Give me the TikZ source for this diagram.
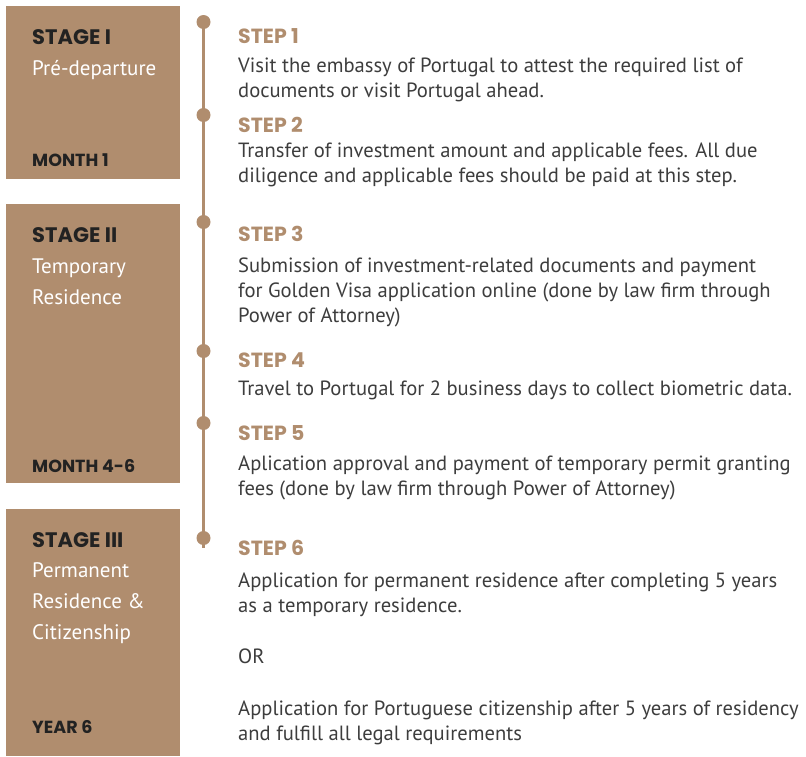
\documentclass[tikz,border=0pt]{standalone}
\usepackage{fontspec}
\setmainfont{PT Sans}
\newfontfamily\headfont{Poppins}
\definecolor{tan}{HTML}{B08D6E}
\definecolor{bodygray}{HTML}{3D3D3D}
\definecolor{ink}{HTML}{222222}
% a top-aligned block whose baseline is that of its first line
\newcommand{\textblock}[1]{\parbox[t]{570pt}{\raggedright #1}}
\begin{document}
\begin{tikzpicture}[x=1pt,y=-1pt,
  stagebox/.style={fill=tan, draw=none},
  stagetitle/.style={anchor=base west, inner sep=0pt, text=ink, font=\headfont\bfseries\fontsize{21}{26}\selectfont},
  stagesub/.style={anchor=base west, inner sep=0pt, text=white, font=\fontsize{21}{31}\selectfont},
  stagetime/.style={anchor=base west, inner sep=0pt, text=ink, font=\headfont\bfseries\fontsize{17.5}{20}\selectfont},
  steptitle/.style={anchor=base west, inner sep=0pt, text=tan, font=\headfont\bfseries\fontsize{20.5}{24}\selectfont},
  stepbody/.style={anchor=base west, inner sep=0pt, text=bodygray, font=\fontsize{20.6}{25}\selectfont},
  dot/.style={circle, fill=tan, minimum size=14pt, inner sep=0pt},
  spine/.style={draw=tan, line width=3.3pt}]
\useasboundingbox (0,0) rectangle (806,756);

% stage panels
\path[stagebox] (6,6) rectangle (180,179);
\path[stagebox] (6,204) rectangle (180,483);
\path[stagebox] (6,509) rectangle (180,756);

\node[stagetitle] (s1t) at (32,44) {STAGE I};
\node[stagesub]   (s1s) at (32,75) {\textblock{Pré-departure}};
\node[stagetime]  (s1m) at (32,166) {MONTH 1};

\node[stagetitle] (s2t) at (32,242) {STAGE II};
\node[stagesub]   (s2s) at (32,273) {\textblock{Temporary\\Residence}};
\node[stagetime]  (s2m) at (32,472) {MONTH 4-6};

\node[stagetitle] (s3t) at (32,547) {STAGE III};
\node[stagesub]   (s3s) at (32,577) {\textblock{Permanent\\Residence \&\\Citizenship}};
\node[stagetime]  (s3m) at (32,733) {YEAR 6};

% timeline spine and step markers
\coordinate (tstart) at (203.5,22);
\coordinate (tend) at (203.5,548);
\draw[spine] (tstart) -- (tend);
\node[dot] (d1) at (203.5,22) {};
\node[dot] (d2) at (203.5,115) {};
\node[dot] (d3) at (203.5,222) {};
\node[dot] (d4) at (203.5,351) {};
\node[dot] (d5) at (203.5,423) {};
\node[dot] (d6) at (203.5,538) {};

% steps
\node[steptitle] (p1t) at (238,43) {STEP 1};
\node[stepbody]  (p1b) at (238,72) {\textblock{Visit the embassy of Portugal to attest the required list of\\documents or visit Portugal ahead.}};

\node[steptitle] (p2t) at (238,132) {STEP 2};
\node[stepbody]  (p2b) at (238,157) {\textblock{Transfer of investment amount and applicable fees. All due\\diligence and applicable fees should be paid at this step.}};

\node[steptitle] (p3t) at (238,241) {STEP 3};
\node[stepbody]  (p3b) at (238,272) {\textblock{Submission of investment-related documents and payment\\for Golden Visa application online (done by law firm through\\Power of Attorney)}};

\node[steptitle] (p4t) at (238,367) {STEP 4};
\node[stepbody]  (p4b) at (238,395) {\textblock{Travel to Portugal for 2 business days to collect biometric data.}};

\node[steptitle] (p5t) at (238,440) {STEP 5};
\node[stepbody]  (p5b) at (238,470) {\textblock{Aplication approval and payment of temporary permit granting\\fees (done by law firm through Power of Attorney)}};

\node[steptitle] (p6t) at (238,555) {STEP 6};
\node[stepbody]  (p6b) at (238,587) {\textblock{Application for permanent residence after completing 5 years\\as a temporary residence.}};
\node[stepbody]  (p6o) at (238,663) {\textblock{OR}};
\node[stepbody]  (p6c) at (238,715) {\textblock{Application for Portuguese citizenship after 5 years of residency\\and fulfill all legal requirements}};
\end{tikzpicture}
\end{document}
